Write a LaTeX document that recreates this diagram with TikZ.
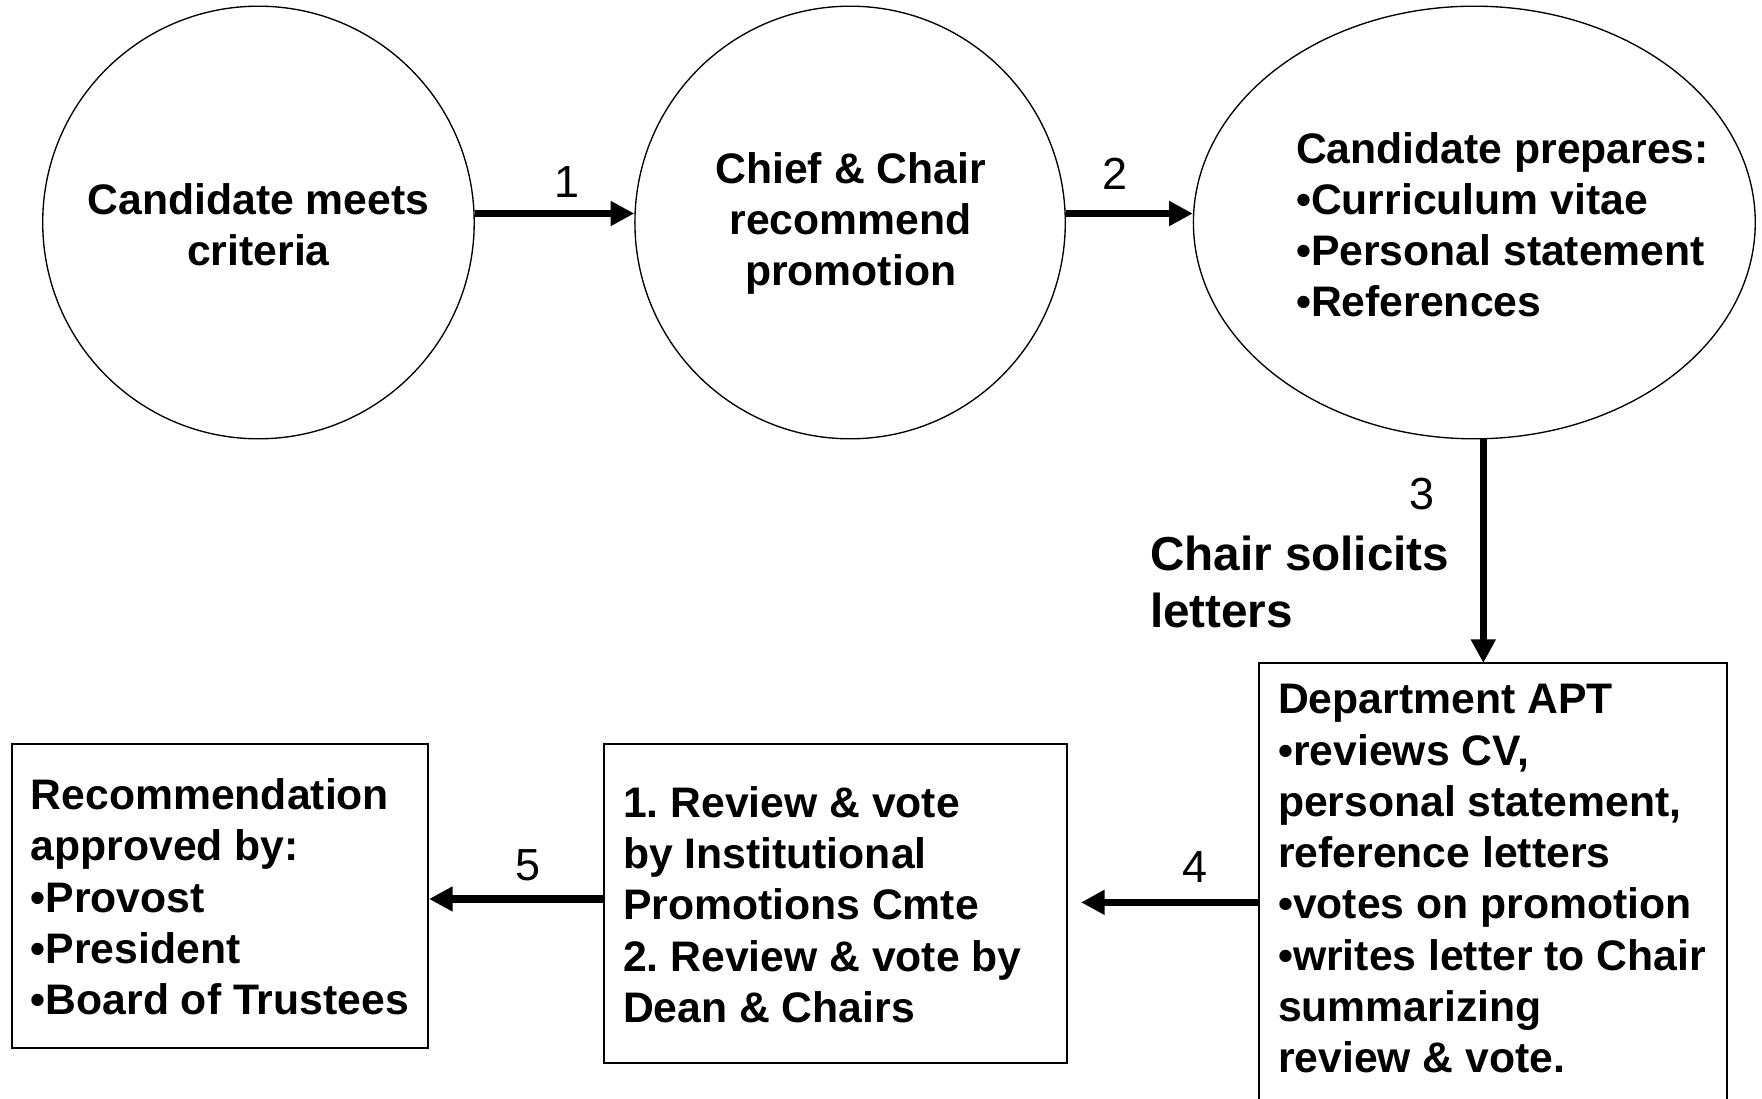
\documentclass[tikz,border=0pt]{standalone}
\usepackage{fontspec}
\setmainfont{Liberation Sans}
\usetikzlibrary{arrows.meta,shapes.geometric}
\frenchspacing
\tikzset{
  shapeline/.style={draw=black, line width=0.6pt},
  boxline/.style={draw=black, line width=0.9pt},
  roundbox/.style={shapeline, ellipse, inner sep=0pt},
  txt/.style={inner sep=0pt, font=\bfseries\fontsize{19}{22.8}\selectfont},
  num/.style={inner sep=0pt, font=\fontsize{20}{24}\selectfont},
  arr/.style={line width=3.4pt, -{Triangle[length=10.5pt,width=10.5pt]}},
}
\begin{document}
\begin{tikzpicture}[x=0.5pt,y=-0.5pt]
\clip (0,0) rectangle (1568,978);
\fill[white] (0,0) rectangle (1568,978);
% shapes
\node[roundbox, minimum width=192pt, minimum height=192.5pt] (c1) at (230,198) {};
\node[roundbox, minimum width=191.5pt, minimum height=192.5pt] (c2) at (756.5,198) {};
\node[roundbox, minimum width=250pt, minimum height=192.5pt] (c3) at (1312,198) {};
\draw[boxline] (1120,590) rectangle (1537,1100);
\node[inner sep=0pt, minimum width=208.5pt, minimum height=255pt, anchor=north west] (b3) at (1120,590) {};
\node[boxline, inner sep=0pt, minimum width=206pt, minimum height=142pt, anchor=north west] (b2) at (537,661) {};
\node[boxline, inner sep=0pt, minimum width=185pt, minimum height=135.5pt, anchor=north west] (b1) at (10,661) {};
% texts
\node[txt, align=center] (t1) at (230,200) {Candidate meets\\criteria};
\node[txt, align=center] (t2) at (757,199) {Chief \& Chair\\recommend\\promotion};
\node[txt, align=left, anchor=west] (t3) at (1153,200) {Candidate prepares:\\•Curriculum vitae\\•Personal statement\\•References};
\node[inner sep=0pt, align=left, anchor=west, font=\bfseries\fontsize{21.2}{25.5}\selectfont] (tl) at (1023,518) {Chair solicits\\letters};
\node[txt, align=left, anchor=west] (t4) at (1137,782) {Department APT\\•reviews CV,\\personal statement,\\reference letters\\•votes on promotion\\•writes letter to Chair\\summarizing\\review \& vote.};
\node[txt, align=left, anchor=west] (t5) at (554,805) {1. Review \& vote\\by Institutional\\Promotions Cmte\\2. Review \& vote by\\Dean \& Chairs};
\node[txt, align=left, anchor=west] (t6) at (27,798) {Recommendation\\approved by:\\•Provost\\•President\\•Board of Trustees};
% numbers
\node[num] (n1) at (505,162) {1};
\node[num] (n2) at (992,155) {2};
\node[num] (n3) at (1265,440) {3};
\node[num] (n4) at (1063,772) {4};
\node[num] (n5) at (470,770) {5};
% connectors
\coordinate (a1) at (0,190);
\coordinate (a3) at (1320,0);
\coordinate (a4) at (962,803);
\coordinate (a5) at (0,800);
\draw[arr] (c1.east|-a1) -- (c2.west|-a1);
\draw[arr] (c2.east|-a1) -- (c3.west|-a1);
\draw[arr] (c3.south-|a3) -- (b3.north-|a3);
\draw[arr] (b3.west|-a4) -- (a4);
\draw[arr] (b2.west|-a5) -- (b1.east|-a5);
\end{tikzpicture}
\end{document}
